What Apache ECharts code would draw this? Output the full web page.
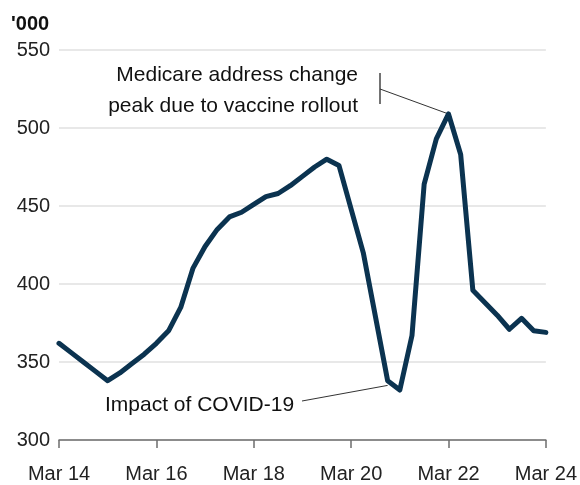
<!DOCTYPE html>
<html>
<head>
<meta charset="utf-8">
<script src="https://cdn.jsdelivr.net/npm/echarts@6/dist/echarts.min.js"></script>
<style>
html,body{margin:0;padding:0;background:#fff;}
#chart{width:580px;height:485px;}
</style>
</head>
<body>
<div id="chart"></div>
<script>
var categories = [
  "Mar 14","Jun 14","Sep 14","Dec 14",
  "Mar 15","Jun 15","Sep 15","Dec 15",
  "Mar 16","Jun 16","Sep 16","Dec 16",
  "Mar 17","Jun 17","Sep 17","Dec 17",
  "Mar 18","Jun 18","Sep 18","Dec 18",
  "Mar 19","Jun 19","Sep 19","Dec 19",
  "Mar 20","Jun 20","Sep 20","Dec 20",
  "Mar 21","Jun 21","Sep 21","Dec 21",
  "Mar 22","Jun 22","Sep 22","Dec 22",
  "Mar 23","Jun 23","Sep 23","Dec 23",
  "Mar 24"
];
var values = [
  362, 356, 350, 344,
  338, 343, 349, 355,
  362, 370, 385, 410,
  424, 435, 443, 446,
  451, 456, 458, 463,
  469, 475, 480, 476,
  448, 420, 379, 338,
  332, 367, 464, 493,
  509, 483, 396, 388,
  380, 371, 378, 370,
  369
];
var yTicks = [300, 350, 400, 450, 500, 550];
var unitLabel = "'000";
var peakText = ["Medicare address change", "peak due to vaccine rollout"];
var peakIndex = 32;
var covidText = "Impact of COVID-19";
var covidIndex = 28;

var FONT = '"Liberation Sans", Arial, sans-serif';
var chart = echarts.init(document.getElementById('chart'), null, {renderer: 'canvas'});
var option = {
  animation: false,
  backgroundColor: '#ffffff',
  grid: {left: 59, right: 33, top: 50, bottom: 45, containLabel: false},
  xAxis: {
    type: 'category',
    data: categories,
    boundaryGap: false,
    axisLine: {lineStyle: {color: '#6e6e6e', width: 1.5}},
    axisTick: {show: true, interval: 7, length: 8, lineStyle: {color: '#6e6e6e', width: 1.5}},
    axisLabel: {interval: 7, color: '#222', fontSize: 20, fontFamily: FONT, margin: 24},
    splitLine: {show: false}
  },
  yAxis: {
    type: 'value',
    min: yTicks[0],
    max: yTicks[yTicks.length - 1],
    interval: 50,
    axisLine: {show: false},
    axisTick: {show: false},
    axisLabel: {color: '#222', fontSize: 20, fontFamily: FONT, margin: 9},
    splitLine: {lineStyle: {color: '#e8e8e8', width: 2}}
  },
  series: [{
    type: 'line',
    data: values,
    symbol: 'none',
    smooth: false,
    lineStyle: {color: '#0b3350', width: 5, join: 'round', cap: 'round'},
    z: 3
  }]
};
chart.setOption(option);

var peak = chart.convertToPixel({xAxisIndex: 0, yAxisIndex: 0}, [peakIndex, values[peakIndex]]);
var trough = chart.convertToPixel({xAxisIndex: 0, yAxisIndex: 0}, [covidIndex - 0.6, values[covidIndex] + 3]);

chart.setOption({
  graphic: [
    {type: 'text', left: 11, top: 14, style: {text: unitLabel, fill: '#111', font: 'bold 20px ' + FONT}},
    {type: 'text', x: 358, y: 75, style: {text: peakText[0], fill: '#111', font: '21px ' + FONT, textAlign: 'right', textVerticalAlign: 'middle'}},
    {type: 'text', x: 358, y: 106, style: {text: peakText[1], fill: '#111', font: '21px ' + FONT, textAlign: 'right', textVerticalAlign: 'middle'}},
    {type: 'line', shape: {x1: 380, y1: 73, x2: 380, y2: 104}, style: {stroke: '#444', lineWidth: 1.5}},
    {type: 'line', shape: {x1: 380, y1: 89, x2: peak[0], y2: peak[1]}, style: {stroke: '#333', lineWidth: 1}},
    {type: 'text', x: 105, y: 405, style: {text: covidText, fill: '#111', font: '21px ' + FONT, textAlign: 'left', textVerticalAlign: 'middle'}},
    {type: 'line', shape: {x1: 302, y1: 401, x2: trough[0], y2: trough[1]}, style: {stroke: '#333', lineWidth: 1}}
  ]
});
</script>
</body>
</html>
